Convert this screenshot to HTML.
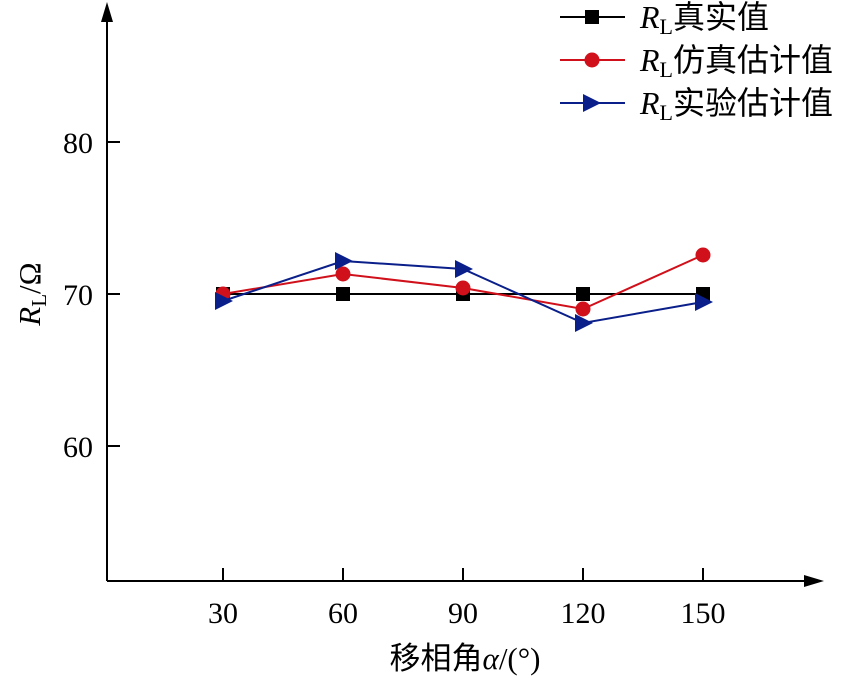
<!DOCTYPE html>
<html><head><meta charset="utf-8"><style>body{margin:0;background:#fff}</style></head><body>
<svg width="850" height="678" xmlns="http://www.w3.org/2000/svg" font-family="Liberation Serif, Noto Serif CJK SC, serif">
<g stroke="#000" stroke-width="2" fill="none">
<line x1="107" y1="581" x2="107" y2="12"/>
<line x1="107" y1="581" x2="815" y2="581"/>
<line x1="107" y1="142" x2="120" y2="142"/>
<line x1="107" y1="294" x2="120" y2="294"/>
<line x1="107" y1="446" x2="120" y2="446"/>
<line x1="223" y1="581" x2="223" y2="568"/>
<line x1="343" y1="581" x2="343" y2="568"/>
<line x1="463" y1="581" x2="463" y2="568"/>
<line x1="583" y1="581" x2="583" y2="568"/>
<line x1="703" y1="581" x2="703" y2="568"/>
</g>
<polygon points="107,2 101,22 113,22" fill="#000"/>
<polygon points="824,581 804,575 804,587" fill="#000"/>
<g font-size="30" text-anchor="end"><text x="93" y="153">80</text><text x="93" y="305">70</text><text x="93" y="457">60</text></g>
<g font-size="30" text-anchor="middle"><text x="223" y="623">30</text><text x="343" y="623">60</text><text x="463" y="623">90</text><text x="583" y="623">120</text><text x="703" y="623">150</text></g>
<text x="465" y="669" font-size="31" text-anchor="middle" font-family="Liberation Serif, Noto Sans CJK SC, serif">移相角<tspan font-style="italic">α</tspan>/(°)</text>
<text transform="translate(40,294) rotate(-90)" font-size="31" text-anchor="middle"><tspan font-style="italic">R</tspan><tspan font-size="21" dy="6">L</tspan><tspan dy="-6">/Ω</tspan></text>
<polyline points="223,294 343,294 463,294 583,294 703,294" stroke="#000" stroke-width="2" fill="none"/>
<g fill="#000"><rect x="216" y="287" width="14" height="14"/><rect x="336" y="287" width="14" height="14"/><rect x="456" y="287" width="14" height="14"/><rect x="576" y="287" width="14" height="14"/><rect x="696" y="287" width="14" height="14"/></g>
<polyline points="223,294 343,274 463,288 583,309 703,255" stroke="#d0101a" stroke-width="2" fill="none"/>
<g fill="#d0101a"><circle cx="223" cy="294" r="7.5"/><circle cx="343" cy="274" r="7.5"/><circle cx="463" cy="288" r="7.5"/><circle cx="583" cy="309" r="7.5"/><circle cx="703" cy="255" r="7.5"/></g>
<polyline points="223,301 343,261 463,269 583,323 703,302" stroke="#0a1f8a" stroke-width="2" fill="none"/>
<g fill="#0a1f8a">
<polygon points="215,292 233,301 215,310"/><polygon points="335,252 353,261 335,270"/><polygon points="455,260 473,269 455,278"/><polygon points="575,314 593,323 575,332"/><polygon points="695,293 713,302 695,311"/></g>
<line x1="560" y1="17" x2="625" y2="17" stroke="#000" stroke-width="2"/><rect x="585" y="10" width="14" height="14" fill="#000"/>
<line x1="560" y1="60" x2="625" y2="60" stroke="#d0101a" stroke-width="2"/><circle cx="592" cy="60" r="7.5" fill="#d0101a"/>
<line x1="560" y1="103" x2="625" y2="103" stroke="#0a1f8a" stroke-width="2"/><polygon points="583,94 601,103 583,112" fill="#0a1f8a"/>
<g font-size="32" font-family="Liberation Serif, Noto Sans CJK SC, serif">
<text x="640" y="28"><tspan font-style="italic">R</tspan><tspan font-size="22" dy="6">L</tspan><tspan dy="-6">真实值</tspan></text>
<text x="640" y="71"><tspan font-style="italic">R</tspan><tspan font-size="22" dy="6">L</tspan><tspan dy="-6">仿真估计值</tspan></text>
<text x="640" y="114"><tspan font-style="italic">R</tspan><tspan font-size="22" dy="6">L</tspan><tspan dy="-6">实验估计值</tspan></text>
</g>
</svg>
</body></html>
